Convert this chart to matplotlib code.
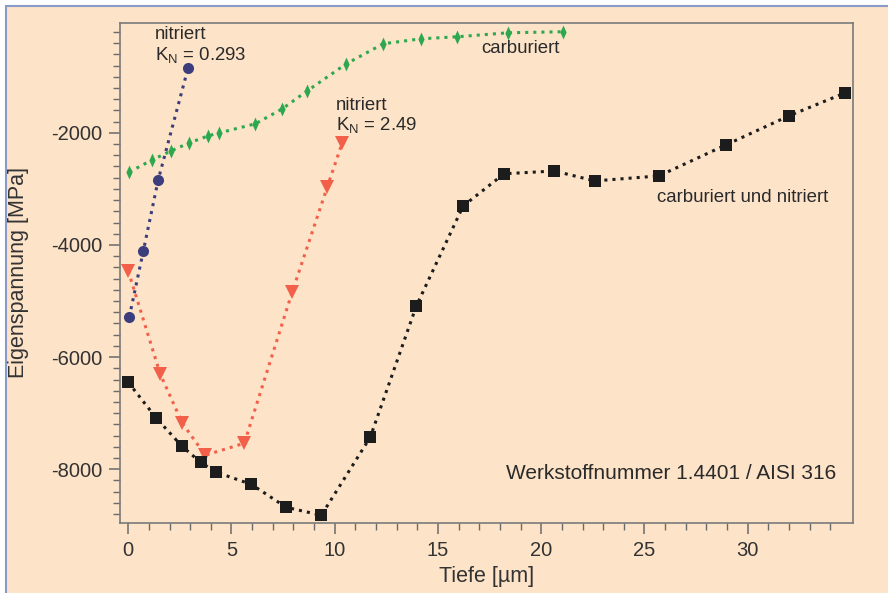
import matplotlib
matplotlib.use("Agg")
from matplotlib import pyplot as plt
from matplotlib.patches import Rectangle
from matplotlib.ticker import MultipleLocator, FixedLocator

plt.rcParams["font.family"] = ["Liberation Sans", "DejaVu Sans"]
plt.rcParams["mathtext.fontset"] = "custom"
plt.rcParams["mathtext.rm"] = "Liberation Sans"
plt.rcParams["mathtext.it"] = "Liberation Sans"
plt.rcParams["axes.unicode_minus"] = False

# carburiert und nitriert
cn_x = [0, 1.36, 2.6, 3.5, 4.26, 5.96, 7.65, 9.35, 11.72, 13.95, 16.22, 18.2, 20.63, 22.6, 25.7, 28.95, 32.0, 34.72]
cn_y = [-6450, -7090, -7590, -7876, -8054, -8270, -8680, -8822, -7430, -5090, -3304, -2730, -2680, -2857, -2768, -2214, -1696, -1286]

# nitriert KN = 2.49
n2_x = [0, 1.55, 2.62, 3.73, 5.62, 7.94, 9.64, 10.36]
n2_y = [-4465, -6304, -7180, -7751, -7537, -4840, -2964, -2179]

# nitriert KN = 0.293
n1_x = [0.05, 0.73, 1.45, 2.9]
n1_y = [-5286, -4107, -2839, -839]

# carburiert
c_x = [0.05, 1.16, 2.08, 2.95, 3.87, 4.41, 6.15, 7.46, 8.67, 10.56, 12.35, 14.19, 15.93, 18.4, 21.06]
c_y = [-2697, -2482, -2321, -2179, -2054, -2000, -1839, -1571, -1250, -768, -410, -321, -286, -214, -196]

x_major = [0, 5, 10, 15, 20, 25, 30]
x_minor = list(range(0, 35))

bg = "#fde3c8"

# schmale Raute fuer "carburiert"
thin_diamond = [(-0.45, 0), (0, 1), (0.45, 0), (0, -1), (-0.45, 0)]

fig = plt.figure(figsize=(8.88, 5.93), dpi=100)
fig.patch.set_facecolor("white")
frame = Rectangle((6 / 888, -0.1), 1.2, 1.1 - 6 / 593, transform=fig.transFigure,
                  facecolor=bg, edgecolor="#8a9ac8", linewidth=1.5, zorder=-10)
fig.patches.append(frame)

ax = fig.add_axes([120 / 888, 1 - 523 / 593, 733 / 888, 500 / 593])
ax.set_facecolor(bg)

ax.plot(c_x, c_y, linestyle=":", linewidth=2.2, color="#2ea84e", marker=thin_diamond, markersize=10, markeredgewidth=0)
ax.plot(n1_x, n1_y, linestyle=":", linewidth=2.2, color="#3c3d7c", marker="o", markersize=8, markeredgewidth=0)
ax.plot(n2_x, n2_y, linestyle=":", linewidth=2.2, color="#f2604a", marker="v", markersize=10, markeredgewidth=0)
ax.plot(cn_x, cn_y, linestyle=":", linewidth=2.2, color="#1c1c1c", marker="s", markersize=9, markeredgewidth=0)

ax.set_xlim(-0.4, 35.1)
ax.set_ylim(-8960, -40)

ax.xaxis.set_major_locator(FixedLocator(x_major))
ax.xaxis.set_minor_locator(FixedLocator(x_minor))
ax.yaxis.set_major_locator(MultipleLocator(2000))
ax.yaxis.set_minor_locator(MultipleLocator(200))

for s in ax.spines.values():
    s.set_color("#7a7a7a")
    s.set_linewidth(1.2)

ax.tick_params(which="both", direction="out", color="#6a6a6a", labelcolor="#333333", labelsize=14.5)
ax.tick_params(which="major", length=8, width=1.1, pad=5)
ax.tick_params(which="minor", length=5, width=1.0)

ax.set_xlabel("Tiefe [µm]", fontsize=15.5, color="#333333")
ax.set_ylabel("Eigenspannung [MPa]", fontsize=15.5, color="#333333")
ax.xaxis.set_label_coords(0.5, -0.086)
ax.yaxis.set_label_coords(-0.124, 0.5)

tc = "#2a2a2a"
ax.text(1.3, -100, "nitriert\nK$_\\mathrm{N}$ = 0.293", fontsize=13.4, color=tc, va="top", ha="left", linespacing=1.1)
ax.text(10.07, -1357, "nitriert\nK$_\\mathrm{N}$ = 2.49", fontsize=13.4, color=tc, va="top", ha="left", linespacing=1.1)
ax.text(17.1, -340, "carburiert", fontsize=13.4, color=tc, va="top", ha="left")
ax.text(25.6, -3161, "carburiert und nitriert", fontsize=13.4, color=tc, va="center", ha="left")
ax.text(34.3, -8073, "Werkstoffnummer 1.4401 / AISI 316", fontsize=15, color=tc, va="center", ha="right")

fig.savefig("out.png", dpi=100, facecolor=fig.get_facecolor())
